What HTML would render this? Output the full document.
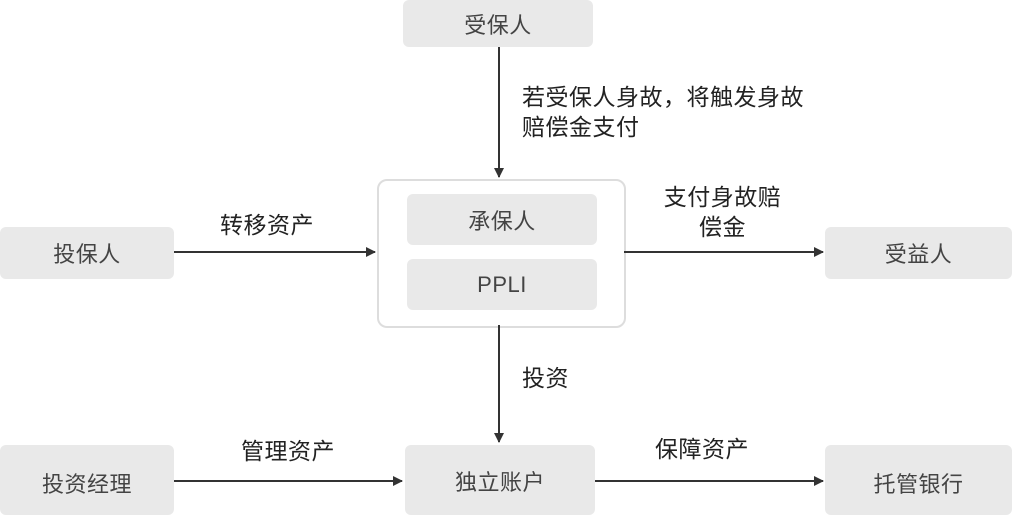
<!DOCTYPE html>
<html><head><meta charset="utf-8"><style>
html,body{margin:0;padding:0;background:#fff;}
body{width:1024px;height:501px;position:relative;overflow:hidden;font-family:"Liberation Sans","Noto Sans CJK SC",sans-serif;color:#333;}
.b{position:absolute;background:#e9e9e9;border-radius:6px;display:flex;align-items:center;justify-content:center;font-size:22px;color:#444;letter-spacing:0.5px;}
.t{position:absolute;font-size:23px;color:#222;line-height:30px;letter-spacing:0.5px;}
.c{position:absolute;border:2px solid #ddd;border-radius:10px;background:#fff;}
</style></head><body>
<div class="b" style="left:403px;top:0;width:190px;height:47px;">受保人</div>
<div class="c" style="left:377px;top:179px;width:245px;height:145px;"></div>
<div class="b" style="left:407px;top:194px;width:190px;height:51px;">承保人</div>
<div class="b" style="left:407px;top:259px;width:190px;height:51px;">PPLI</div>
<div class="b" style="left:0;top:227px;width:174px;height:52px;">投保人</div>
<div class="b" style="left:825px;top:227px;width:187px;height:52px;">受益人</div>
<div class="b" style="left:0;top:445px;width:174px;height:70px;align-items:flex-start;"><span style="margin-top:22px">投资经理</span></div>
<div class="b" style="left:405px;top:445px;width:190px;height:70px;align-items:flex-start;"><span style="margin-top:20px">独立账户</span></div>
<div class="b" style="left:825px;top:445px;width:187px;height:70px;align-items:flex-start;"><span style="margin-top:22px">托管银行</span></div>
<svg width="1024" height="501" style="position:absolute;left:0;top:0">
<defs><marker id="a" markerWidth="10" markerHeight="10" refX="9" refY="5" orient="auto" markerUnits="userSpaceOnUse"><path d="M0,0 L10,5 L0,10 z" fill="#333"/></marker></defs>
<g stroke="#333" stroke-width="2" fill="none">
<line x1="499" y1="47" x2="499" y2="177" marker-end="url(#a)"/>
<line x1="174" y1="252" x2="375" y2="252" marker-end="url(#a)"/>
<line x1="624" y1="252" x2="823" y2="252" marker-end="url(#a)"/>
<line x1="499" y1="325" x2="499" y2="442" marker-end="url(#a)"/>
<line x1="174" y1="481" x2="402" y2="481" marker-end="url(#a)"/>
<line x1="595" y1="481" x2="823" y2="481" marker-end="url(#a)"/>
</g></svg>
<div class="t" style="left:522px;top:82px;">若受保人身故，将触发身故<br>赔偿金支付</div>
<div class="t" style="left:220px;top:210px;">转移资产</div>
<div class="t" style="left:660px;top:182px;text-align:center;width:125px;">支付身故赔<br>偿金</div>
<div class="t" style="left:522px;top:363px;">投资</div>
<div class="t" style="left:241px;top:436px;">管理资产</div>
<div class="t" style="left:655px;top:434px;">保障资产</div>
</body></html>
